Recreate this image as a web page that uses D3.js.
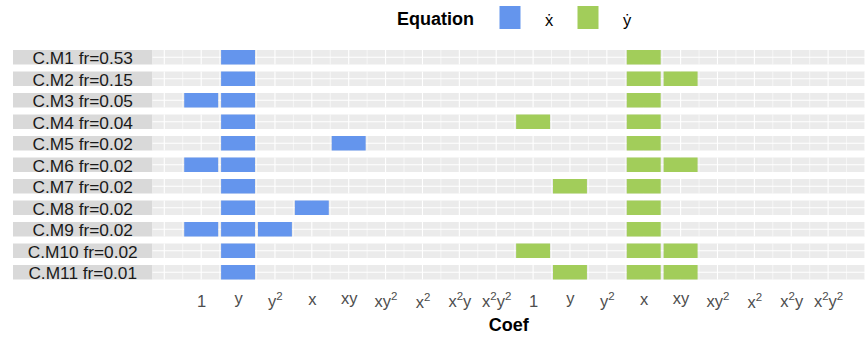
<!DOCTYPE html>
<html>
<head>
<meta charset="utf-8">
<script src="https://cdn.jsdelivr.net/npm/d3@7"></script>
<style>
	body { margin: 0; background: #fff; }
	text { font-family: "Liberation Sans", Arial, sans-serif; }
</style>
</head>
<body>
<div id="chart"></div>
<script>
"use strict";

//
// Data
//
var models = ["C.M1", "C.M2", "C.M3", "C.M4", "C.M5", "C.M6", "C.M7", "C.M8", "C.M9", "C.M10", "C.M11"];
var freqs = [0.53, 0.15, 0.05, 0.04, 0.02, 0.02, 0.02, 0.02, 0.02, 0.02, 0.01];

// coefficient terms ("2" after a letter means squared)
var coefs = ["1", "y", "y2", "x", "xy", "xy2", "x2", "x2y", "x2y2"];
var equations = ["xdot", "ydot"];
var eqLabels = ["\u1E8B", "\u1E8F"];
var eqColors = ["#6495ED", "#A2CD5A"];

// terms present in each model
var xdotTerms = [
	["y"], ["y"], ["1", "y"], ["y"], ["y", "xy"], ["1", "y"],
	["y"], ["y", "x"], ["1", "y", "y2"], ["y"], ["y"]
];
var ydotTerms = [
	["x"], ["x", "xy"], ["x"], ["1", "x"], ["x"], ["x", "xy"],
	["y", "x"], ["x"], ["x"], ["1", "x", "xy"], ["y", "x", "xy"]
];

var tiles = [];
models.forEach(function(m, i) {
	xdotTerms[i].forEach(function(t) { tiles.push({ model: m, eq: 0, coef: t }); });
	ydotTerms[i].forEach(function(t) { tiles.push({ model: m, eq: 1, coef: t }); });
});

//
// Setup Variables
//
var width = 865, height = 337;
var panelLeft = 152.5, panelRight = 865;
var stripLeft = 13;

var x = d3.scaleLinear().domain([-0.32, 19]).range([panelLeft, panelRight]);
var y = d3.scaleBand().domain(models).range([50, 279.5]).paddingInner(0.326).paddingOuter(0);

function col(eq, coef) { return eq * coefs.length + coefs.indexOf(coef) + 1; }

var svg = d3.select("#chart")
	.append("svg")
		.attr("width", width)
		.attr("height", height);

//
// Strips
//
var rows = svg.selectAll(".row")
	.data(models)
  .enter().append("g")
	.attr("class", "row")
	.attr("transform", function(d) { return "translate(0," + y(d) + ")"; });

rows.append("rect")
	.attr("x", stripLeft)
	.attr("width", panelLeft - stripLeft)
	.attr("height", y.bandwidth())
	.attr("fill", "#D9D9D9");

rows.append("text")
	.attr("x", (stripLeft + panelLeft) / 2)
	.attr("y", y.bandwidth() - 0.5)
	.attr("text-anchor", "middle")
	.attr("font-size", 17.3)
	.attr("fill", "#1A1A1A")
	.text(function(d, i) { return d + " fr=" + freqs[i].toFixed(2); });

//
// Panels
//
rows.append("rect")
	.attr("x", panelLeft)
	.attr("width", panelRight - panelLeft)
	.attr("height", y.bandwidth())
	.attr("fill", "#EBEBEB");

var gridVals = d3.range(0, 19.01, 0.5);
rows.selectAll(".vgrid")
	.data(gridVals)
  .enter().append("line")
	.attr("x1", function(d) { return x(d); })
	.attr("x2", function(d) { return x(d); })
	.attr("y1", 0)
	.attr("y2", y.bandwidth())
	.attr("stroke", "#fff")
	.attr("stroke-width", function(d) { return d % 1 === 0 ? 1.1 : 0.6; });

rows.append("line")
	.attr("x1", panelLeft)
	.attr("x2", panelRight)
	.attr("y1", y.bandwidth() / 2)
	.attr("y2", y.bandwidth() / 2)
	.attr("stroke", "#fff")
	.attr("stroke-width", 1.1);

//
// Tiles
//
var tileW = 0.92;
svg.selectAll(".tile")
	.data(tiles)
  .enter().append("rect")
	.attr("class", "tile")
	.attr("x", function(d) { return x(col(d.eq, d.coef) - tileW / 2); })
	.attr("width", x(tileW) - x(0))
	.attr("y", function(d) { return y(d.model); })
	.attr("height", y.bandwidth())
	.attr("fill", function(d) { return eqColors[d.eq]; });

//
// X-Axis
//
var tickVals = d3.range(1, 19);
var xAxis = d3.axisBottom(x).tickValues(tickVals).tickSize(0).tickFormat("");
var axisG = svg.append("g")
	.attr("transform", "translate(0,301)")
	.call(xAxis);
axisG.select(".domain").remove();

// baseline offset so each label's box is centred
var baseOff = { "1": 5.8, "y": 2.5, "y2": 5.8, "x": 4.2, "xy": 2.5, "xy2": 5.8, "x2": 7.4, "x2y": 5.8, "x2y2": 5.8 };

axisG.selectAll(".tick text").each(function(d) {
	var c = coefs[(d - 1) % coefs.length];
	var t = d3.select(this)
		.attr("y", baseOff[c])
		.attr("dy", null)
		.attr("font-size", 16.5)
		.attr("fill", "#4D4D4D")
		.attr("font-family", "Liberation Sans, Arial, sans-serif");
	// split into base letters and superscript 2s
	var shift = 0;
	c.match(/[a-z1]2?/g).forEach(function(p) {
		t.append("tspan").attr("dy", shift).text(p[0]);
		shift = 0;
		if (p.length > 1) {
			t.append("tspan").attr("dy", -7).attr("font-size", 11.5).text("2");
			shift = 7;
		}
	});
});

svg.append("text")
	.attr("x", (panelLeft + panelRight) / 2)
	.attr("y", 331)
	.attr("text-anchor", "middle")
	.attr("font-size", 18)
	.attr("font-weight", "bold")
	.attr("fill", "#000")
	.text("Coef");

//
// Legend
//
var legend = svg.append("g");
legend.append("text")
	.attr("x", 397)
	.attr("y", 25)
	.attr("font-size", 18)
	.attr("font-weight", "bold")
	.attr("fill", "#000")
	.text("Equation");

var keyX = [499.5, 577.5];
var labX = [549, 627];
legend.selectAll(".key")
	.data(equations)
  .enter().append("rect")
	.attr("x", function(d, i) { return keyX[i]; })
	.attr("y", 6)
	.attr("width", 21)
	.attr("height", 23)
	.attr("fill", function(d, i) { return eqColors[i]; });

legend.selectAll(".klab")
	.data(equations)
  .enter().append("text")
	.attr("x", function(d, i) { return labX[i]; })
	.attr("y", 26)
	.attr("text-anchor", "middle")
	.attr("font-size", 16.5)
	.attr("fill", "#000")
	.text(function(d, i) { return eqLabels[i]; });
</script>
</body>
</html>
